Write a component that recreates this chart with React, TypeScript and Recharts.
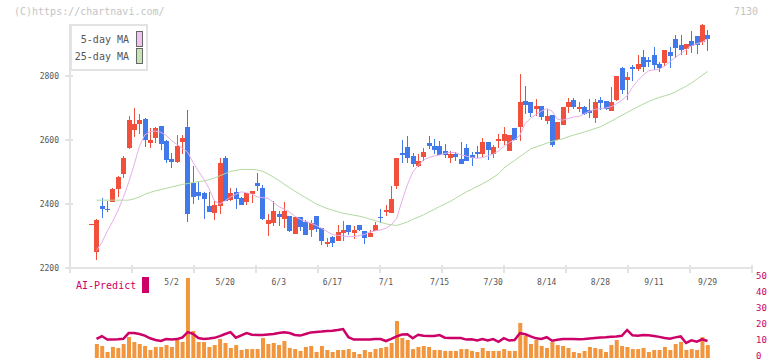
import React from 'react';
import { ComposedChart, Bar, Line, XAxis, YAxis, ReferenceLine } from 'recharts';

// candle index -1 is the lone doji at the left edge
const startIndex = -1;

const opens = [
  2337, 2251, 2394, 2385, 2407, 2447, 2495, 2576, 2632, 2649, 2666, 2592, 2607, 2644, 2597, 2541, 2532, 2595, 2641,
  2466, 2437, 2434, 2394, 2373, 2394, 2544, 2413, 2437, 2419, 2407, 2432, 2466, 2450, 2338, 2342, 2369, 2354, 2362,
  2307, 2359, 2344, 2320, 2362, 2325, 2276, 2297, 2285, 2310, 2334, 2310, 2334, 2317, 2298, 2317, 2359, 2376, 2373,
  2457, 2559, 2578, 2551, 2520, 2548, 2591, 2581, 2581, 2566, 2545, 2556, 2541, 2575, 2553, 2562, 2557, 2594, 2557,
  2598, 2598, 2567, 2637, 2642, 2722, 2719, 2697, 2706, 2659, 2678, 2600, 2647, 2703, 2725, 2697, 2703, 2694, 2669,
  2725, 2722, 2691, 2725, 2825, 2787, 2828, 2822, 2859, 2850, 2866, 2837, 2841, 2875, 2916, 2897, 2885, 2909, 2925,
  2906, 2928,
];
const highs = [
  2338, 2353, 2418, 2409, 2449, 2487, 2550, 2675, 2699, 2681, 2669, 2638, 2640, 2644, 2600, 2559, 2616, 2616, 2694,
  2519, 2469, 2437, 2437, 2409, 2544, 2550, 2450, 2450, 2422, 2434, 2441, 2497, 2459, 2369, 2409, 2378, 2406, 2362,
  2359, 2359, 2350, 2350, 2362, 2325, 2294, 2300, 2334, 2347, 2334, 2331, 2334, 2317, 2320, 2344, 2384, 2397, 2456,
  2544, 2600, 2612, 2560, 2556, 2575, 2612, 2603, 2597, 2587, 2566, 2562, 2594, 2587, 2562, 2581, 2606, 2594, 2584,
  2619, 2641, 2616, 2637, 2806, 2769, 2719, 2728, 2706, 2697, 2678, 2656, 2703, 2731, 2731, 2719, 2706, 2728, 2728,
  2734, 2722, 2766, 2800, 2828, 2812, 2834, 2866, 2881, 2859, 2891, 2844, 2881, 2891, 2928, 2928, 2900, 2941, 2925,
  2962, 2944,
];
const lows = [
  2336, 2226, 2357, 2376, 2405, 2423, 2482, 2572, 2610, 2618, 2579, 2576, 2592, 2568, 2528, 2512, 2528, 2557, 2345,
  2400, 2413, 2354, 2376, 2351, 2370, 2410, 2410, 2385, 2397, 2398, 2404, 2441, 2351, 2301, 2332, 2332, 2326, 2314,
  2307, 2317, 2304, 2298, 2314, 2273, 2267, 2267, 2285, 2285, 2304, 2291, 2317, 2276, 2298, 2317, 2341, 2362, 2373,
  2448, 2529, 2529, 2517, 2515, 2533, 2572, 2556, 2553, 2545, 2529, 2533, 2526, 2535, 2520, 2545, 2548, 2538, 2545,
  2575, 2584, 2567, 2600, 2598, 2681, 2673, 2675, 2662, 2650, 2579, 2600, 2647, 2685, 2697, 2687, 2678, 2669, 2653,
  2694, 2694, 2691, 2722, 2744, 2725, 2784, 2816, 2812, 2828, 2819, 2812, 2831, 2825, 2856, 2866, 2866, 2872, 2869,
  2897, 2878,
];
const closes = [
  2337, 2350, 2385, 2384, 2447, 2484, 2544, 2662, 2650, 2662, 2601, 2600, 2637, 2588, 2538, 2532, 2581, 2606, 2370,
  2423, 2426, 2417, 2376, 2397, 2528, 2410, 2434, 2417, 2398, 2434, 2441, 2457, 2354, 2350, 2378, 2360, 2378, 2317,
  2359, 2329, 2304, 2341, 2323, 2285, 2281, 2279, 2312, 2320, 2313, 2320, 2320, 2295, 2310, 2334, 2357, 2381, 2416,
  2544, 2554, 2545, 2526, 2534, 2562, 2582, 2569, 2553, 2554, 2556, 2548, 2526, 2535, 2545, 2557, 2594, 2569, 2578,
  2603, 2619, 2616, 2600, 2719, 2709, 2684, 2706, 2673, 2675, 2584, 2656, 2703, 2719, 2703, 2703, 2681, 2684, 2719,
  2716, 2697, 2719, 2800, 2756, 2797, 2822, 2837, 2828, 2844, 2834, 2825, 2881, 2862, 2887, 2881, 2900, 2894, 2897,
  2959, 2916,
];
const ma5 = [
  null, 2255, 2280, 2315, 2345, 2380, 2420, 2468, 2522, 2580, 2616, 2626, 2628, 2624, 2614, 2598, 2586, 2575, 2562,
  2530, 2503, 2478, 2448, 2410, 2400, 2410, 2422, 2430, 2438, 2435, 2431, 2422, 2420, 2418, 2405, 2392, 2384, 2375,
  2362, 2352, 2346, 2340, 2333, 2324, 2314, 2305, 2302, 2300, 2298, 2298, 2301, 2305, 2312, 2316, 2319, 2324, 2335,
  2355, 2410, 2460, 2500, 2520, 2538, 2545, 2550, 2553, 2558, 2562, 2560, 2554, 2550, 2545, 2543, 2545, 2550, 2556,
  2566, 2580, 2592, 2600, 2615, 2652, 2668, 2680, 2690, 2698, 2690, 2665, 2662, 2667, 2672, 2673, 2682, 2690, 2696,
  2698, 2700, 2704, 2713, 2724, 2738, 2765, 2786, 2803, 2816, 2819, 2821, 2831, 2845, 2858, 2870, 2882, 2894, 2901,
  2906, 2916,
];
const ma25 = [
  null, 2412, 2412, 2412, 2412, 2412, 2412, 2412, 2416, 2422, 2430, 2436, 2441, 2445, 2449, 2453, 2457, 2461, 2464,
  2467, 2470, 2472, 2476, 2481, 2488, 2495, 2502, 2505, 2508, 2508, 2508, 2506, 2502, 2494, 2484, 2474, 2462, 2451,
  2440, 2430, 2420, 2410, 2400, 2393, 2386, 2381, 2376, 2371, 2368, 2365, 2362, 2358, 2353, 2348, 2343, 2338, 2335,
  2333, 2338, 2344, 2352, 2359, 2366, 2375, 2383, 2392, 2400, 2408, 2418, 2428, 2438, 2446, 2455, 2463, 2472, 2483,
  2494, 2512, 2525, 2536, 2548, 2560, 2572, 2578, 2584, 2590, 2596, 2600, 2604, 2610, 2615, 2620, 2625, 2630, 2636,
  2641, 2650, 2658, 2668, 2677, 2686, 2695, 2704, 2712, 2720, 2727, 2733, 2738, 2743, 2750, 2759, 2768, 2778, 2790,
  2802, 2814,
];
const volume = [
  null, 8.75, 7.5, 3.75, 6.9, 6.25, 8.75, 13.1, 10, 8.75, 7.5, 5, 6.9, 6.9, 8.1, 6.9, 11.25, 10, 50, 16.9, 10,
  10, 6.9, 8.1, 11.9, 9.4, 6.25, 8.1, 5, 5.6, 5.6, 5.6, 12.5, 8.75, 9.4, 8.1, 10.6, 6.25, 5.6, 4.4, 6.9,
  7.5, 3.75, 7.5, 5, 3.75, 5, 5, 5.6, 3.75, 2.5, 5, 3.75, 5.6, 6.25, 6.9, 9.4, 23.1, 12.5, 11.25, 5.6,
  6.9, 7.5, 6.9, 5, 5, 4.4, 4.4, 4.4, 5.6, 5.6, 4.4, 3.75, 6.25, 4.4, 4.4, 4.4, 5.6, 4.4, 4.4, 21.9,
  13.75, 8.75, 11.25, 7.5, 6.25, 10, 8.1, 7.5, 6.25, 3.75, 3.1, 4.4, 6.9, 6.25, 5.6, 3.75, 8.1, 11.25, 7.5, 6.9,
  5.6, 5.6, 6.25, 3.75, 5, 5, 6.9, 5, 8.75, 10, 5, 5.6, 5, 13.1, 8.1,
];
const aiPredict = [
  null, 11.9, 13.7, 11.5, 11.5, 11.7, 12.0, 15.6, 15.6, 15.0, 14.0, 12.3, 11.3, 10.6, 11.8, 11.6, 11.8, 12.8, 16.2,
  15.1, 12.5, 11.9, 12.2, 12.6, 13.7, 15, 16.2, 12.7, 14.2, 15.6, 14.6, 14.4, 14.4, 14.7, 15.0, 15.6, 16.1, 15.6,
  14.4, 14.0, 15.0, 16.0, 16.3, 16.5, 16.8, 17.0, 17.5, 18.1, 13.0, 11.5, 11.5, 11.5, 11.5, 11.9, 11.9, 10.6, 11.9,
  13.5, 14.7, 14.8, 12.3, 14.5, 13.9, 13.75, 13.75, 14.3, 12.7, 12.5, 12.5, 12.5, 11.5, 11.7, 10.9, 11.9, 10.9, 11.8,
  10.1, 12.4, 10.9, 11.2, 15.5, 14.8, 13.5, 12.3, 11.9, 13.0, 10.8, 11.4, 11.9, 11.8, 11.8, 11.7, 11.9, 12.2, 12.5,
  12.8, 13.0, 13.3, 13.5, 13.9, 17.5, 14.2, 13.9, 14.3, 14.2, 13.8, 13.2, 12.5, 12.0, 12.9, 13.5, 9.4, 11.0, 10.2,
  11.7, 10.6,
];

const dateIndex = [14, 24, 34, 44, 54, 64, 74, 84, 94, 104, 114];
const dateLabels = ['5/2', '5/20', '6/3', '6/17', '7/1', '7/15', '7/30', '8/14', '8/28', '9/11', '9/29'];
const priceTicks = [2200, 2400, 2600, 2800];
const predictTicks = [0, 10, 20, 30, 40, 50];

const X_MIN = -4.95;
const X_MAX = 122.3;
const Y_MIN = 2200;
const Y_MAX = 2962.5;
const PX_PER_X = 682 / (X_MAX - X_MIN);
const gridTicks = Array.from({ length: 12 }, (_, k) => X_MIN + (k * (X_MAX - X_MIN)) / 11);

const RED = '#f0503c';
const BLUE = '#4279ea';
const GRID = '#e3e3e3';
const CRIMSON = '#cc0066';
const MONO = '"DejaVu Sans Mono", monospace';

const rows = opens.map((o, k) => ({
  i: k + startIndex,
  open: o,
  high: highs[k],
  low: lows[k],
  close: closes[k],
  range: [lows[k], highs[k]],
  ma5: ma5[k],
  ma25: ma25[k],
  vol: volume[k],
  ai: aiPredict[k],
}));

const Candle = (props: any) => {
  const { x, y, width, height, payload } = props;
  if (!payload) return null;
  const { open, close, high, low } = payload;
  const span = high - low;
  const toY = (v: number) => (span === 0 ? y : y + ((high - v) / span) * height);
  const color = close >= open ? RED : BLUE;
  const cx = Math.round(x + width / 2);
  const top = toY(Math.max(open, close));
  const bottom = toY(Math.min(open, close));
  return (
    <g shapeRendering="crispEdges">
      <line x1={cx + 0.5} x2={cx + 0.5} y1={toY(high)} y2={toY(low)} stroke={color} strokeWidth={1} />
      <rect x={cx - 2} y={top} width={5} height={Math.max(1, bottom - top)} fill={color} />
    </g>
  );
};

const tickStyle = { fontSize: 8, fill: '#555', fontFamily: MONO };

export default function App() {
  return (
    <div style={{ position: 'absolute', left: 0, top: 0, width: 772, height: 361, background: '#fff', fontFamily: MONO }}>
      <div style={{ position: 'absolute', left: 0, top: 0 }}>
        <ComposedChart width={772} height={361} data={rows} margin={{ top: 24, right: 20, bottom: 73, left: 0 }}>
          <XAxis
            type="number"
            dataKey="i"
            domain={[X_MIN, X_MAX]}
            allowDataOverflow
            ticks={dateIndex}
            tickFormatter={(v: number) => dateLabels[dateIndex.indexOf(v)] ?? ''}
            interval={0}
            height={20}
            tickSize={0}
            tickMargin={11}
            tickLine={false}
            axisLine={{ stroke: GRID, strokeWidth: 2 }}
            tick={tickStyle}
          />
          <YAxis
            type="number"
            domain={[Y_MIN, Y_MAX]}
            allowDataOverflow
            ticks={priceTicks}
            interval={0}
            width={70}
            tickSize={0}
            tickMargin={11}
            tickLine={false}
            axisLine={{ stroke: GRID, strokeWidth: 2 }}
            tick={tickStyle}
          />
          {gridTicks.map((t) => (
            <ReferenceLine
              key={'gx' + t}
              segment={[{ x: t, y: Y_MIN - 16 }, { x: t, y: Y_MIN + 9 }]}
              stroke={GRID}
              strokeWidth={2}
              ifOverflow="visible"
            />
          ))}
          {priceTicks.map((p) => (
            <ReferenceLine
              key={'gy' + p}
              segment={[{ x: X_MIN - 5 / PX_PER_X, y: p }, { x: X_MIN + 3 / PX_PER_X, y: p }]}
              stroke={GRID}
              strokeWidth={2}
              ifOverflow="visible"
            />
          ))}
          <Line dataKey="ma25" stroke="#b2d9a0" strokeWidth={1} dot={false} isAnimationActive={false} connectNulls={false} />
          <Line dataKey="ma5" stroke="#e6aee9" strokeWidth={1} dot={false} isAnimationActive={false} connectNulls={false} />
          <Bar dataKey="range" barSize={5} shape={<Candle />} isAnimationActive={false} />
        </ComposedChart>
      </div>

      <div style={{ position: 'absolute', left: 0, top: 0 }}>
        <ComposedChart width={772} height={361} data={rows} margin={{ top: 278, right: 0, bottom: 3, left: 70 }}>
          <XAxis type="number" dataKey="i" domain={[X_MIN, X_MAX]} allowDataOverflow hide />
          <YAxis
            orientation="right"
            type="number"
            domain={[0, 50]}
            ticks={predictTicks}
            interval={0}
            width={20}
            tickSize={0}
            tickMargin={4}
            tickLine={false}
            axisLine={false}
            tick={{ fontSize: 9, fill: CRIMSON, fontFamily: MONO, dy: -2 }}
          />
          <Bar dataKey="vol" barSize={4} fill="#f2963e" isAnimationActive={false} />
          <Line dataKey="ai" stroke={CRIMSON} strokeWidth={2.5} dot={false} isAnimationActive={false} />
        </ComposedChart>
      </div>

      <div style={{ position: 'absolute', left: 14, top: 6, fontSize: 10, lineHeight: '12px', color: '#c4c4c4' }}>
        (C)https://chartnavi.com/
      </div>
      <div style={{ position: 'absolute', left: 734, top: 6, fontSize: 10, lineHeight: '12px', color: '#c4c4c4' }}>7130</div>

      <div
        style={{
          position: 'absolute',
          left: 70,
          top: 24,
          width: 78,
          height: 47,
          boxSizing: 'border-box',
          border: `2px solid ${GRID}`,
          background: '#fff',
          fontSize: 10,
          lineHeight: '12px',
          color: '#555',
        }}
      >
        <span style={{ position: 'absolute', right: 17, top: 8, whiteSpace: 'nowrap' }}>5-day MA</span>
        <span style={{ position: 'absolute', right: 17, top: 25, whiteSpace: 'nowrap' }}>25-day MA</span>
        <div style={{ position: 'absolute', left: 64, top: 5, width: 7, height: 16, boxSizing: 'border-box', border: '1px solid #666', background: '#f0c4f0' }} />
        <div style={{ position: 'absolute', left: 64, top: 22, width: 7, height: 16, boxSizing: 'border-box', border: '1px solid #666', background: '#c4e4b4' }} />
      </div>

      <div style={{ position: 'absolute', left: 76, top: 280, fontSize: 10, lineHeight: '12px', color: CRIMSON }}>AI-Predict</div>
      <div style={{ position: 'absolute', left: 142, top: 277, width: 7, height: 16, background: CRIMSON }} />
    </div>
  );
}
